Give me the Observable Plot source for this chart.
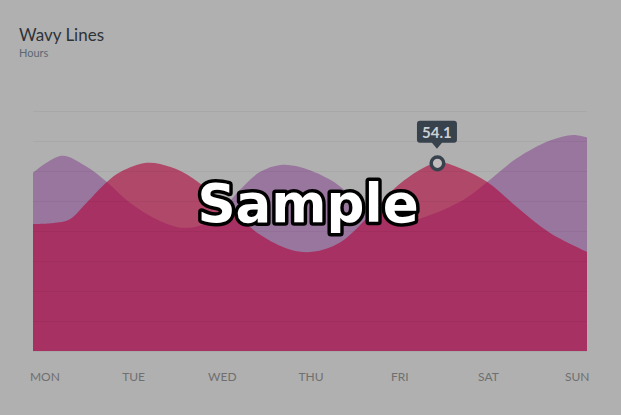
<!DOCTYPE html>
<html><head><meta charset="utf-8">
<script src="https://cdn.jsdelivr.net/npm/d3@7"></script>
<script src="https://cdn.jsdelivr.net/npm/@observablehq/plot@0.6"></script>
<style>
html,body{margin:0;padding:0;background:#b0b0b0;}
#wrap{width:621px;height:415px;overflow:hidden;font-family:Lato,sans-serif;}
#header{height:60px;box-sizing:border-box;padding:25px 0 0 19px;}
#title{font-size:17px;line-height:20px;color:#2e3338;}
#subtitle{font-size:11px;line-height:13px;margin-top:1px;color:#5b6873;}
svg{display:block;}
</style></head>
<body>
<div id="wrap">
  <div id="header"><div id="title">Wavy Lines</div><div id="subtitle">Hours</div></div>
  <div id="chart"></div>
</div>
<script>
const days = ["MON","TUE","WED","THU","FRI","SAT","SUN"];

// series A (purple) - position in days (0 = MON ... 6 = SUN), hours
const purpleDay   = [0, 0.31, 0.56, 0.80, 1.05, 1.375, 1.65, 1.92, 2.24, 2.46, 2.68, 2.89, 3.22, 3.62, 4.03, 4.33, 4.68, 4.92, 5.24, 5.60, 5.85, 6.0];
const purpleHours = [51.2, 56.1, 53.3, 48.6, 42.6, 37.4, 35.4, 37.4, 46.3, 51.5, 53.5, 52.9, 49.2, 41.4, 37.4, 39.4, 43.8, 48.6, 55.4, 60.5, 62.1, 61.4];

// series B (crimson)
const pinkDay   = [0, 0.22, 0.40, 0.58, 0.80, 0.95, 1.23, 1.49, 1.73, 2.13, 2.46, 2.78, 3.03, 3.32, 3.65, 3.97, 4.375, 4.62, 4.92, 5.24, 5.60, 6.0];
const pinkHours = [36.5, 36.8, 37.9, 42.6, 48.6, 51.5, 54.1, 52.9, 49.7, 40.8, 33.4, 29.2, 28.5, 31.1, 39.1, 48.0, 54.1, 52.6, 48.6, 41.4, 33.9, 28.5];

// highlighted point
const markerDay = [4.375];
const markerValue = [54.1];

const yMax = 69;
const gridValues = d3.range(0, 9).map(i => i * yMax / 8);

const W = 621, H = 355, mL = 33, mR = 34, mT = 51, mB = 64;
const purple = purpleDay.map((d, i) => ({day: d, value: purpleHours[i]}));
const pink = pinkDay.map((d, i) => ({day: d, value: pinkHours[i]}));
const marker = markerDay.map((d, i) => ({day: d, value: markerValue[i]}));
// labels centred in seven equal bands across the chart width
const labels = days.map((d, i) => ({name: d, pos: ((i + 0.5) * W / 7 - mL) / (W - mL - mR) * 6}));

const tooltip = (index, scales) => {
  const g = d3.create("svg:g");
  marker.forEach(m => {
    const cx = scales.x(m.day), cy = scales.y(m.value);
    const w = 40, h = 22, gap = 20, r = 3, p = 5;
    const top = cy - gap - h, left = cx - w / 2;
    const side = w / 2 - r - p;
    g.append("path")
      .attr("d", `M${left + r},${top} h${w - 2 * r} a${r},${r} 0 0 1 ${r},${r} v${h - 2 * r} a${r},${r} 0 0 1 ${-r},${r} h${-side} l${-p},${6} l${-p},${-6} h${-side} a${r},${r} 0 0 1 ${-r},${-r} v${-(h - 2 * r)} a${r},${r} 0 0 1 ${r},${-r} Z`)
      .attr("fill", "#37424d");
    g.append("text")
      .attr("x", cx).attr("y", cy - 25)
      .attr("text-anchor", "middle")
      .attr("font-family", "Lato")
      .attr("font-weight", "bold")
      .attr("font-size", 15)
      .attr("fill", "#ccd0d4")
      .text(m.value.toFixed(1));
  });
  return g.node();
};

const chart = Plot.plot({
  width: W, height: H,
  marginLeft: mL, marginRight: mR, marginTop: mT, marginBottom: mB,
  style: {background: "transparent", fontFamily: "Lato"},
  x: {domain: [0, 6], axis: null},
  y: {domain: [0, yMax], axis: null},
  marks: [
    Plot.areaY(purple, {x: "day", y: "value", fill: "#99769e", curve: "catmull-rom"}),
    Plot.areaY(pink, {x: "day", y: "value", fill: "#b0033b", fillOpacity: 0.6, curve: "catmull-rom"}),
    Plot.ruleY(gridValues, {stroke: "#000", strokeOpacity: 0.045}),
    Plot.text(labels, {x: "pos", text: "name", frameAnchor: "bottom", dy: 29, fontSize: 12, fill: "#6f6f6f"}),
    Plot.dot(marker, {x: "day", y: "value", r: 6.3, stroke: "#37424d", strokeWidth: 3.5, fill: "#c2babd"}),
    tooltip,
    Plot.text(["Sample"], {frameAnchor: "middle", dx: -2.5, dy: -26, fontSize: 53, fontWeight: "bold", fontFamily: "DejaVu Sans", fill: "white", stroke: "black", strokeWidth: 7})
  ]
});
document.getElementById("chart").appendChild(chart);
</script>
</body></html>
